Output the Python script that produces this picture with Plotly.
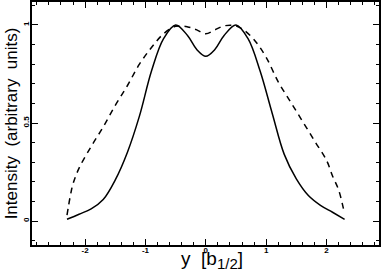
import plotly.graph_objects as go

solid_x = [-2.3, -2.1, -1.9, -1.7, -1.5, -1.3, -1.1, -0.9, -0.7, -0.5, -0.3, -0.15, 0.0,
           0.15, 0.3, 0.5, 0.7, 0.9, 1.1, 1.3, 1.5, 1.7, 1.9, 2.1, 2.3]
solid_y = [0.009, 0.035, 0.062, 0.11, 0.21, 0.35, 0.535, 0.765, 0.93, 1.0, 0.945, 0.875, 0.84,
           0.875, 0.945, 1.0, 0.93, 0.765, 0.55, 0.34, 0.215, 0.13, 0.08, 0.045, 0.009]

dash_x = [-2.3, -2.25, -2.2, -2.1, -1.9, -1.7, -1.5, -1.3, -1.1, -0.9, -0.7, -0.5, -0.3, -0.15, 0.0,
          0.15, 0.3, 0.45, 0.6, 0.8, 1.0, 1.2, 1.4, 1.6, 1.8, 2.0, 2.1, 2.2, 2.29]
dash_y = [0.03, 0.12, 0.19, 0.27, 0.38, 0.48, 0.59, 0.69, 0.80, 0.885, 0.955, 0.993, 0.99, 0.975, 0.955,
          0.975, 0.995, 0.998, 0.98, 0.925, 0.835, 0.71, 0.61, 0.51, 0.41, 0.31, 0.23, 0.16, 0.05]

x_ticks = [-2, -1, 0, 1, 2]
x_ticklabels = ["-2", "-1", "0", "1", "2"]
y_ticks = [0, 0.5, 1]
y_ticklabels = ["0", "0.5", "1"]

fig = go.Figure()
fig.add_trace(go.Scatter(x=solid_x, y=solid_y, mode="lines",
                         line=dict(color="black", width=1.5, shape="spline", smoothing=1)))
fig.add_trace(go.Scatter(x=dash_x, y=dash_y, mode="lines",
                         line=dict(color="black", width=1.5, dash="6px,5px", shape="spline", smoothing=1)))

axis_common = dict(showline=True, linecolor="black", linewidth=1.5, mirror="ticks",
                   ticks="inside", ticklen=6, tickcolor="black", tickwidth=1,
                   showgrid=False, zeroline=False, automargin=False,
                   tickfont=dict(family="Liberation Sans", size=8, color="black", weight="bold"))

fig.update_layout(
    width=382, height=277,
    margin=dict(l=32, r=3, t=2, b=32, autoexpand=False),
    paper_bgcolor="white", plot_bgcolor="white",
    showlegend=False,
    xaxis=dict(range=[-2.88, 2.87], tickvals=x_ticks, ticktext=x_ticklabels,
               minor=dict(dtick=0.2, tick0=0, ticks="inside", ticklen=3, tickcolor="black"),
               ticklabelstandoff=-3,
               **axis_common),
    yaxis=dict(range=[-0.122, 1.117], tickvals=y_ticks, ticktext=y_ticklabels, tickangle=-90,
               minor=dict(dtick=0.1, tick0=0, ticks="inside", ticklen=3, tickcolor="black"),
               ticklabelstandoff=-2,
               **axis_common),
    annotations=[
        dict(text="y  [b<sub><span style='font-size:15px'>1/2</span></sub>]", xref="paper", yref="paper",
             x=0.52, y=-0.005, xanchor="center", yanchor="top", showarrow=False,
             font=dict(family="Liberation Sans", size=19, color="black")),
        dict(text="Intensity  (arbitrary  units)", xref="paper", yref="paper", x=-0.058, y=0.5,
             xanchor="center", yanchor="middle", textangle=-90, showarrow=False,
             font=dict(family="Liberation Sans", size=17, color="black")),
    ],
)

fig.write_html("out.html", config={"displayModeBar": False},
               post_script="document.body.style.margin='0';document.body.style.overflow='hidden';")
